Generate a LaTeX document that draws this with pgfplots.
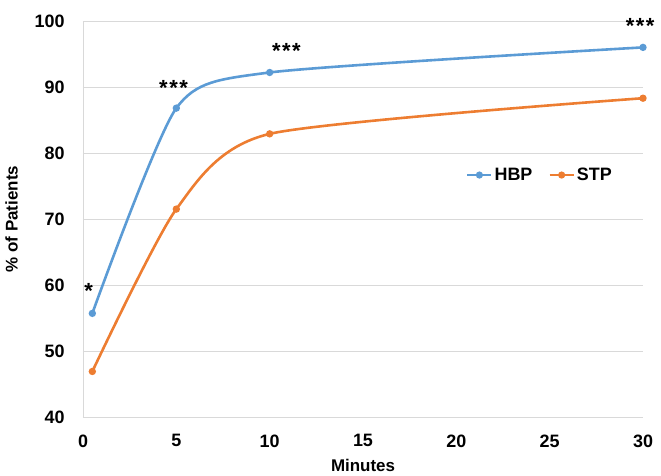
\documentclass[border=0pt]{standalone}
\usepackage{pgfplots}
\pgfplotsset{compat=1.18}
\usepackage{fontspec}
\setmainfont{Liberation Sans}
\definecolor{hbpblue}{HTML}{5B9BD5}
\definecolor{stporange}{HTML}{ED7D31}
\definecolor{gridgray}{HTML}{D9D9D9}
\begin{document}
\begin{tikzpicture}
\begin{axis}[
  name=ax,
  scale only axis,
  width=560bp, height=396bp,
  xmin=0, xmax=30, ymin=40, ymax=100,
  xtick={0,5,...,30}, ytick={40,50,...,100},
  axis x line*=bottom, axis y line*=left,
  axis line style={gridgray, line width=0.9bp},
  tick style={draw=none},
  ymajorgrids, grid style={gridgray, line width=0.9bp},
  ticklabel style={font=\fontsize{18}{20}\selectfont\bfseries},
  /pgf/number format/assume math mode=true,
  xticklabel style={yshift=-14bp},
  yticklabel style={xshift=-15bp},
  xlabel={Minutes}, ylabel={\% of Patients},
  label style={font=\fontsize{17}{19}\selectfont\bfseries},
  xlabel style={yshift=-5bp},
  ylabel style={yshift=10bp},
  legend style={draw=none, fill=none, font=\fontsize{18}{20}\selectfont\bfseries,
    at={(0.816,0.611)}, anchor=center, legend columns=2,
    /tikz/every even column/.append style={column sep=14bp}},
  legend image code/.code={\draw[#1, line width=2.4bp] (0bp,0bp) -- (24bp,0bp);
    \fill[#1] (12bp,0bp) circle (2.2bp);},
  clip=false,
]
\addplot[hbpblue, line width=2.6bp, smooth, tension=0.4, mark=*, mark size=2.3bp] coordinates {
  (0.5,55.7) (5,86.8) (10,92.2) (30,96.0)
};
\addlegendentry{HBP}
\addplot[stporange, line width=2.6bp, smooth, tension=0.4, mark=*, mark size=2.3bp] coordinates {
  (0.5,46.9) (5,71.5) (10,82.9) (30,88.3)
};
\addlegendentry{STP}
\node[font=\fontsize{22}{24}\selectfont\bfseries] at (axis cs:0.3,59.1) {*};
\node[font=\fontsize{22}{24}\selectfont\bfseries] at (axis cs:4.85,89.9) {*\kern1.5bp*\kern1.5bp*};
\node[font=\fontsize{22}{24}\selectfont\bfseries] at (axis cs:10.9,95.5) {*\kern1.5bp*\kern1.5bp*};
\node[font=\fontsize{22}{24}\selectfont\bfseries] at (axis cs:29.85,99.2) {*\kern1.5bp*\kern1.5bp*};
\end{axis}
\pgfresetboundingbox
\path ([xshift=-83bp,yshift=-59bp]ax.south west) rectangle ([xshift=18bp,yshift=21bp]ax.north east);
\end{tikzpicture}
\end{document}
